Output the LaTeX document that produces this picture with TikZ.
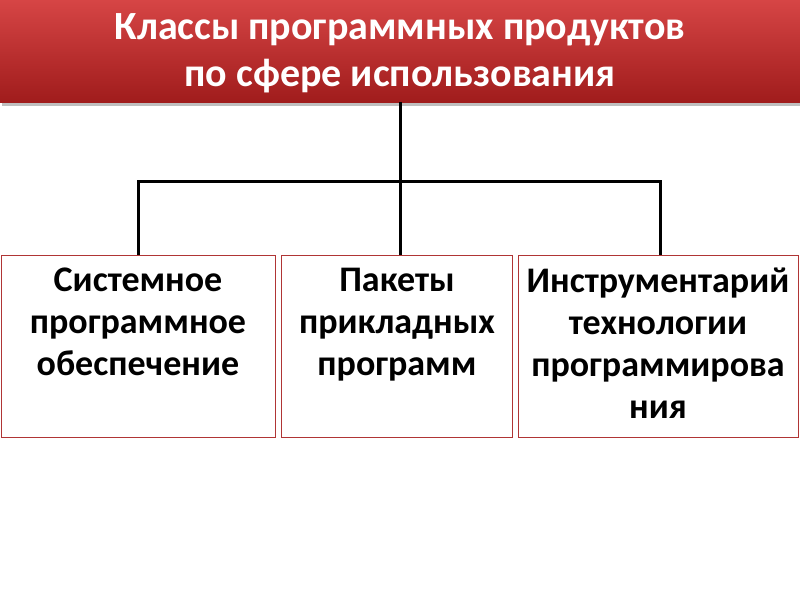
\documentclass[tikz,border=0pt]{standalone}
\usepackage{fontspec}
\setmainfont{Carlito}
\definecolor{hdrtop}{HTML}{D64545}
\definecolor{hdrbot}{HTML}{A01C1C}
\definecolor{boxborder}{HTML}{B03535}
\tikzset{x=1pt,y=-1pt,
 catbox/.style={draw=boxborder,line width=1.2pt,fill=white,anchor=north west,inner sep=0pt},
 cattext/.style={align=center,font=\bfseries\fontsize{36}{42}\selectfont,anchor=north,inner sep=0pt},
 conn/.style={line width=3pt,black}}
\begin{document}
\begin{tikzpicture}
\useasboundingbox (0,0) rectangle (800,600);
\fill[white] (0,0) rectangle (800,600);
\fill[black!25] (2,6) rectangle (802,106);
\shade[top color=hdrtop,bottom color=hdrbot] (0,0) rectangle (800,102);
\node[text=white,align=center,font=\bfseries\fontsize{40}{47}\selectfont] (h) at (400,53) {Классы программных продуктов\\по сфере использования};
\coordinate (hb) at (400,102);
\node[catbox,minimum width=274pt,minimum height=182pt] (b1) at (1,255) {};
\node[catbox,minimum width=231pt,minimum height=182pt] (b2) at (281,255) {};
\node[catbox,minimum width=280pt,minimum height=182pt] (b3) at (518,255) {};
\node[cattext] (t1) at (138,268) {Системное\\программное\\обеспечение};
\node[cattext] (t2) at (397,268) {Пакеты\\прикладных\\программ};
\node[cattext] (t3) at (658,268) {Инструментарий\\технологии\\программирова\\ния};
\coordinate (j) at (400,181);
\draw[conn] (hb) -- (hb |- b2.north);
\draw[conn] (b1.north -| 138,0) |- (j) -| (b3.north -| 660,0);
\end{tikzpicture}
\end{document}
